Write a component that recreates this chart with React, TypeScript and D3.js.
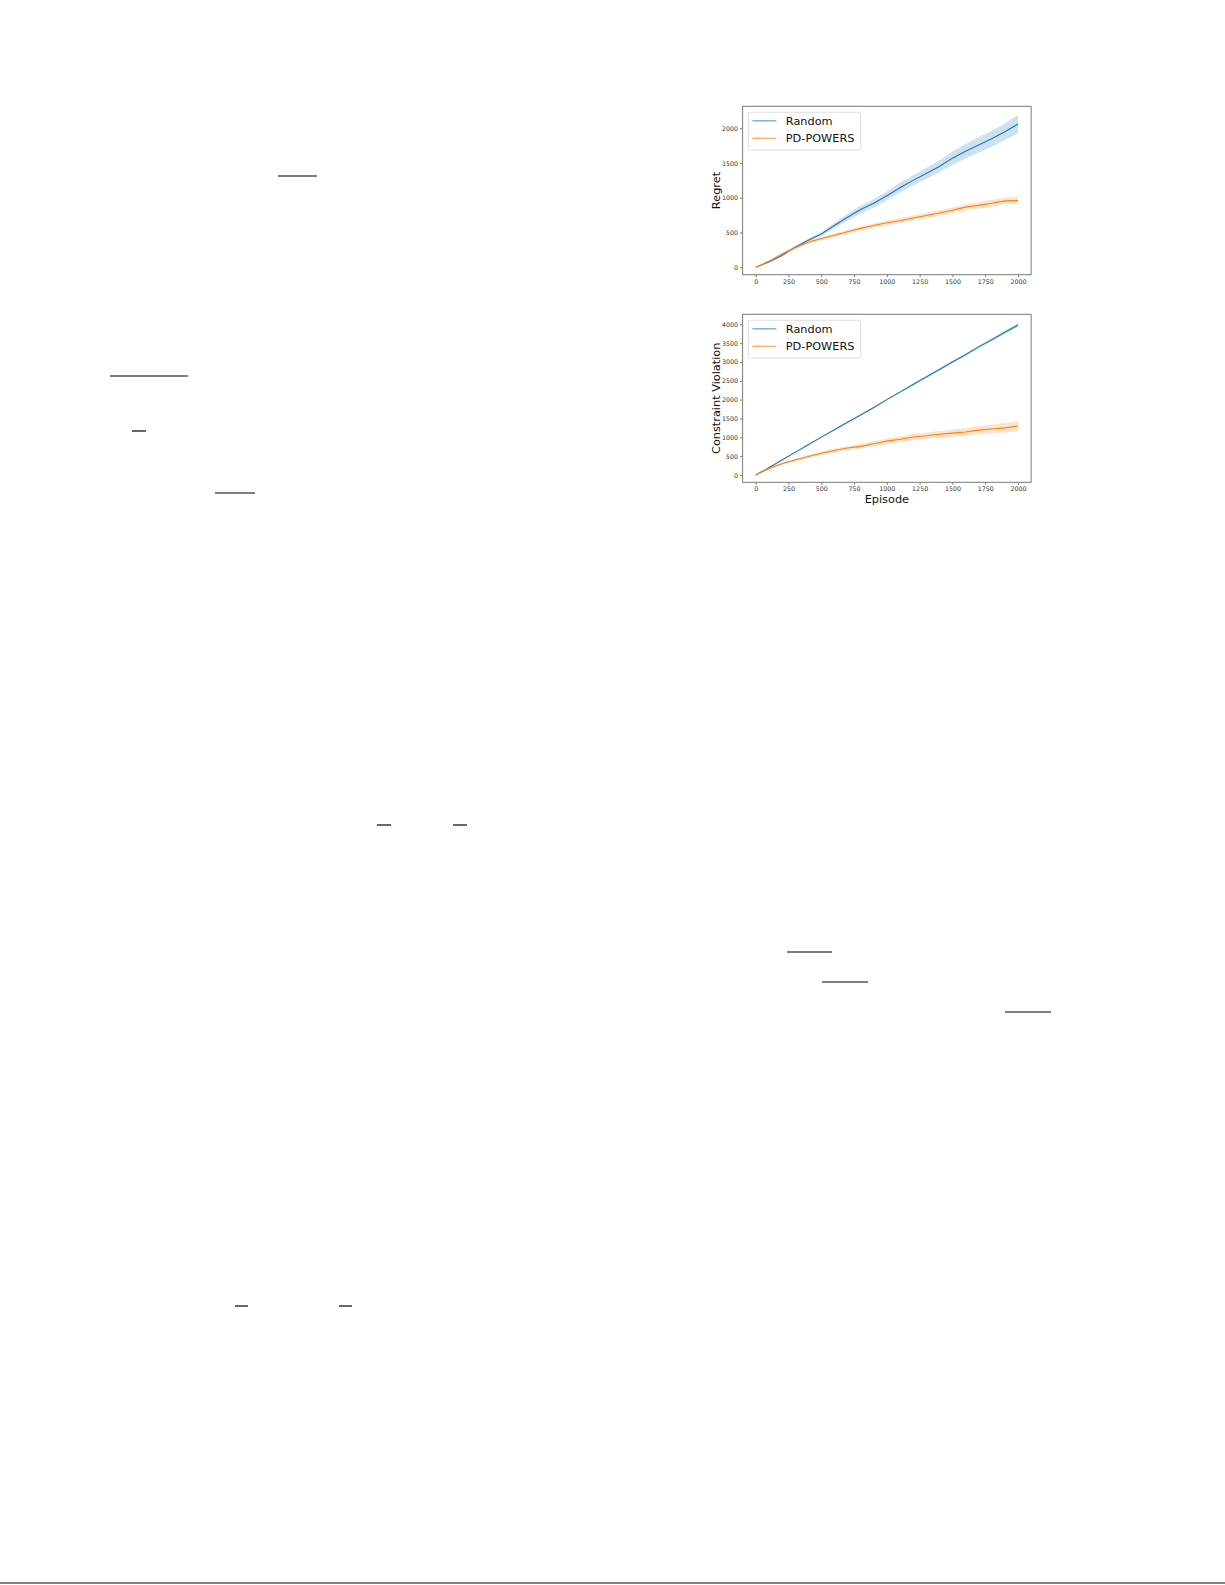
import React, { useEffect, useRef } from 'react';
import * as d3 from 'd3';

// episodes sampled every 100
const episodes = d3.range(0, 2001, 100);

const regretRandom = [0, 75, 170, 290, 390, 480, 600, 720, 830, 920, 1030, 1145, 1250, 1350, 1450, 1570, 1670, 1760, 1850, 1950, 2060];
const regretRandomSpread = [0, 10, 15, 15, 20, 25, 40, 50, 55, 60, 65, 70, 75, 80, 85, 95, 105, 110, 115, 120, 130];
const regretPd = [0, 85, 190, 280, 360, 415, 460, 510, 560, 600, 640, 670, 710, 745, 780, 820, 865, 890, 920, 955, 960];
const regretPdSpread = [0, 15, 20, 20, 25, 25, 25, 30, 30, 30, 35, 35, 35, 35, 40, 40, 45, 45, 50, 50, 50];

const violationRandom = [0, 190, 400, 600, 800, 1005, 1200, 1400, 1590, 1790, 2000, 2200, 2400, 2600, 2800, 3000, 3190, 3400, 3590, 3790, 3980];
const violationRandomSpread = [0, 10, 10, 15, 15, 15, 20, 20, 20, 25, 25, 25, 30, 30, 30, 35, 35, 40, 40, 45, 50];
const violationPd = [0, 170, 300, 400, 490, 575, 650, 715, 760, 830, 900, 950, 1010, 1040, 1080, 1110, 1140, 1190, 1220, 1250, 1300];
const violationPdSpread = [0, 20, 30, 35, 40, 45, 50, 55, 60, 65, 75, 80, 85, 85, 90, 95, 100, 110, 115, 120, 130];

const seriesNames = ['Random', 'PD-POWERS'];
const seriesColors = ['#1f77b4', '#ff7f0e'];
const xTicks = d3.range(0, 2001, 250);
const regretTicks = d3.range(0, 2001, 500);
const violationTicks = d3.range(0, 4001, 500);

// leftover fraction bars / footer rule of the page this figure sat on
const pageRules = [
  [278, 317, 176], [110, 188, 376], [132, 146, 431], [215, 255, 493],
  [377, 391, 825], [453, 467, 825], [787, 832, 952], [822, 868, 982],
  [1005, 1051, 1012], [235, 248, 1306], [339, 352, 1306], [0, 1225, 1583]
];

const FONT = 'DejaVu Sans, sans-serif';

type Panel = {
  top: number;
  bottom: number;
  yDomain: [number, number];
  yTicks: number[];
  yLabel: string;
  xLabel?: string;
  series: { mean: number[]; spread: number[] }[];
};

const panels: Panel[] = [
  {
    top: 106.3, bottom: 274.7, yDomain: [-107, 2316], yTicks: regretTicks, yLabel: 'Regret',
    series: [
      { mean: regretRandom, spread: regretRandomSpread },
      { mean: regretPd, spread: regretPdSpread }
    ]
  },
  {
    top: 314.3, bottom: 482.3, yDomain: [-194, 4265], yTicks: violationTicks, yLabel: 'Constraint Violation', xLabel: 'Episode',
    series: [
      { mean: violationRandom, spread: violationRandomSpread },
      { mean: violationPd, spread: violationPdSpread }
    ]
  }
];

export default function App() {
  const ref = useRef<SVGSVGElement>(null);

  useEffect(() => {
    if (!ref.current) return;
    const svg = d3.select(ref.current);
    svg.selectAll('*').remove();

    svg.append('g')
      .selectAll('line')
      .data(pageRules)
      .join('line')
      .attr('x1', d => d[0])
      .attr('x2', d => d[1])
      .attr('y1', d => d[2])
      .attr('y2', d => d[2])
      .attr('stroke', '#000')
      .attr('stroke-width', 1.2);

    const left = 742.6;
    const right = 1031.1;

    panels.forEach(p => {
      const g = svg.append('g');
      const x = d3.scaleLinear().domain([-100, 2100]).range([left, right]);
      const y = d3.scaleLinear().domain(p.yDomain).range([p.bottom, p.top]);

      // bands first, then lines
      p.series.forEach((s, i) => {
        const area = d3.area<number>()
          .x((_, k) => x(episodes[k]))
          .y0((d, k) => y(d - s.spread[k]))
          .y1((d, k) => y(d + s.spread[k]));
        g.append('path')
          .datum(s.mean)
          .attr('fill', seriesColors[i])
          .attr('fill-opacity', 0.22)
          .attr('d', area);
      });
      p.series.forEach((s, i) => {
        const line = d3.line<number>()
          .x((_, k) => x(episodes[k]))
          .y(d => y(d));
        g.append('path')
          .datum(s.mean)
          .attr('fill', 'none')
          .attr('stroke', seriesColors[i])
          .attr('stroke-width', 1.1)
          .attr('d', line);
      });

      // frame
      g.append('rect')
        .attr('x', left)
        .attr('y', p.top)
        .attr('width', right - left)
        .attr('height', p.bottom - p.top)
        .attr('fill', 'none')
        .attr('stroke', '#7a7a7a')
        .attr('stroke-width', 1);

      // x axis
      const xa = g.append('g')
        .attr('transform', `translate(0,${p.bottom})`)
        .call(d3.axisBottom(x).tickValues(xTicks).tickSize(2.5).tickPadding(2).tickFormat(d3.format('d')));
      xa.select('.domain').remove();
      xa.selectAll('line').attr('stroke', '#7a7a7a');
      xa.selectAll('text').attr('font-size', 6.3).attr('font-family', FONT).attr('fill', '#333');

      // y axis
      const ya = g.append('g')
        .attr('transform', `translate(${left},0)`)
        .call(d3.axisLeft(y).tickValues(p.yTicks).tickSize(2.5).tickPadding(2).tickFormat(d3.format('d')));
      ya.select('.domain').remove();
      ya.selectAll('line').attr('stroke', '#7a7a7a');
      ya.selectAll('text').attr('font-size', 6.3).attr('font-family', FONT).attr('fill', '#333');

      g.append('text')
        .attr('transform', `translate(716,${(p.top + p.bottom) / 2}) rotate(-90)`)
        .attr('text-anchor', 'middle')
        .attr('dy', '0.35em')
        .attr('font-family', FONT)
        .attr('font-size', 11.3)
        .attr('fill', '#111')
        .text(p.yLabel);

      if (p.xLabel) {
        g.append('text')
          .attr('x', (left + right) / 2)
          .attr('y', p.bottom + 21)
          .attr('text-anchor', 'middle')
          .attr('font-family', FONT)
          .attr('font-size', 11.3)
          .attr('fill', '#111')
          .text(p.xLabel);
      }

      // legend
      const lg = g.append('g').attr('transform', `translate(748.3,${p.top + 6})`);
      lg.append('rect')
        .attr('width', 112.4)
        .attr('height', 37.8)
        .attr('rx', 2)
        .attr('fill', '#fff')
        .attr('fill-opacity', 0.8)
        .attr('stroke', '#d6d6d6')
        .attr('stroke-width', 0.8);
      seriesNames.forEach((name, i) => {
        const cy = 8.5 + i * 17.5;
        lg.append('line')
          .attr('x1', 4)
          .attr('x2', 28)
          .attr('y1', cy)
          .attr('y2', cy)
          .attr('stroke', seriesColors[i])
          .attr('stroke-opacity', 0.6)
          .attr('stroke-width', 1.4);
        lg.append('text')
          .attr('x', 37.5)
          .attr('y', cy)
          .attr('dy', '0.36em')
          .attr('font-family', FONT)
          .attr('font-size', 11.3)
          .attr('fill', '#111')
          .text(name);
      });
    });
  }, []);

  return (
    <svg
      ref={ref}
      width={1225}
      height={1585}
      style={{ position: 'absolute', left: 0, top: 0, background: '#fff' }}
    />
  );
}
